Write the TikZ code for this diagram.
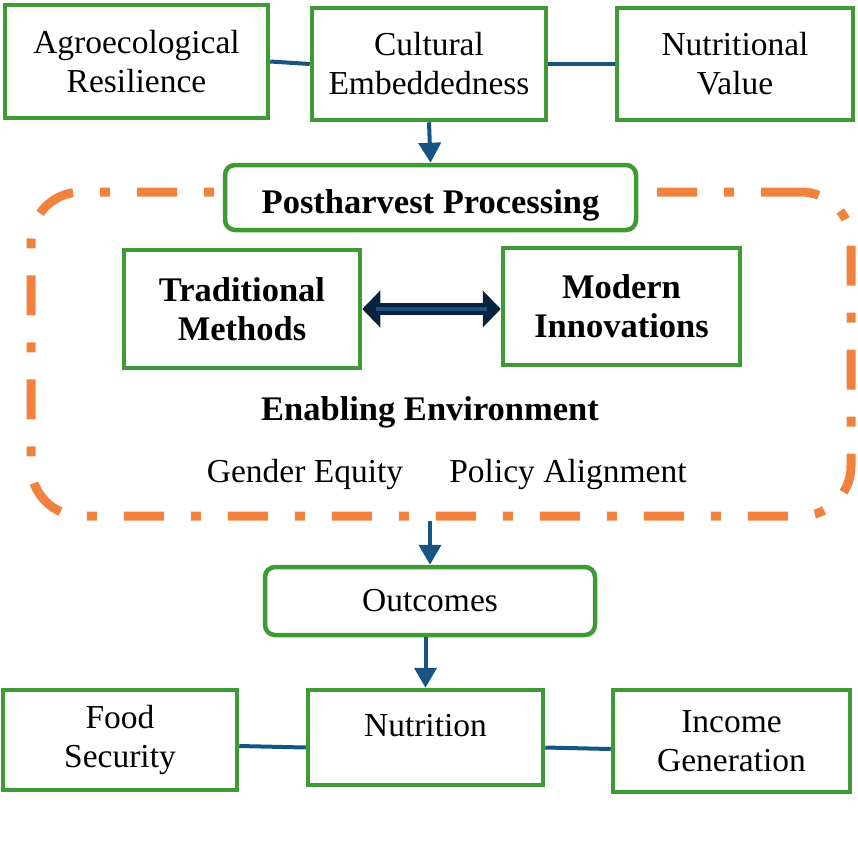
\documentclass[tikz,border=0pt]{standalone}
\usepackage{fontspec}
\setmainfont{Liberation Serif}
\usetikzlibrary{arrows.meta,positioning,calc}
\definecolor{boxgreen}{RGB}{62,154,52}
\definecolor{linkblue}{RGB}{22,84,132}
\definecolor{frameorange}{RGB}{240,130,62}
\definecolor{navydark}{RGB}{10,34,62}
\definecolor{navylight}{RGB}{28,80,128}

\begin{document}
\begin{tikzpicture}[x=1pt,y=-1pt,
  box/.style={draw=boxgreen, line width=4.5pt, fill=white, align=center, inner sep=0pt,
    font=\fontsize{33.5}{39}\selectfont},
  rbox/.style={box, rounded corners=10pt},
  bbox/.style={box, font=\fontsize{34.5}{39}\selectfont\bfseries},
  txt/.style={font=\fontsize{33.5}{39}\selectfont},
  link/.style={draw=linkblue, line width=4pt},
  flow/.style={link, -{Triangle[width=22pt,length=20pt]}},
  frame/.style={draw=frameorange, line width=9pt, rounded corners=50pt,
    dash pattern=on 40pt off 27pt on 10pt off 27pt}]
  \useasboundingbox (0,0) rectangle (858,854);

  % Top row
  \node[box, minimum width=263pt, minimum height=113pt] (agro) at (136.5,61.5) {Agroecological\\Resilience};
  \node[box, minimum width=234pt, minimum height=112pt] (cult) at (429,64) {Cultural\\Embeddedness};
  \node[box, minimum width=236pt, minimum height=112pt] (nutv) at (735,64) {Nutritional\\Value};
  \draw[link] (agro.east) -- (cult.west);
  \draw[link] (cult.east) -- (nutv.west);

  % Enabling environment frame
  \node[frame, minimum width=820pt, minimum height=324pt] (env) at (441,354) {};
  \node[bbox, rounded corners=10pt, text height=36pt, text depth=4pt, minimum width=411pt, minimum height=65pt] (post) at (430.5,197.5) {Postharvest Processing};
  \draw[flow] (cult.south) -- (post.north);

  % Methods
  \node[bbox, minimum width=236pt, minimum height=118pt] (trad) at (242,309) {Traditional\\Methods};
  \node[bbox, minimum width=237pt, minimum height=117pt] (mod) at (621.5,306.5) {Modern\\Innovations};
  \draw[draw=navydark, line width=12pt, {Triangle[width=36pt,length=18pt]}-{Triangle[width=36pt,length=18pt]}] (trad.east) -- (trad.east -| mod.west);
  \draw[draw=navylight, line width=4pt, shorten <=14pt, shorten >=14pt] (trad.east) -- (trad.east -| mod.west);

  \node[txt, font=\fontsize{34.5}{39}\selectfont\bfseries] (enab) at (430,412) {Enabling Environment};
  \node[txt] (gend) at (305,474) {Gender Equity};
  \node[txt] (poli) at (568,474) {Policy Alignment};

  % Outcomes
  \node[rbox, minimum width=330pt, minimum height=68pt] (outc) at (430,601) {Outcomes};
  \draw[flow] (env.south -| outc.north) -- (outc.north);

  % Bottom row
  \node[box, minimum width=234pt, minimum height=100pt] (food) at (120,740) {Food\\Security};
  \node[box, text height=22pt, text depth=25pt, minimum width=235pt, minimum height=95pt] (nutri) at (425.5,737.5) {Nutrition};
  \node[box, minimum width=237pt, minimum height=102pt] (inc) at (731.5,741) {Income\\Generation};
  \draw[flow] (outc.south -| nutri.north) -- (nutri.north);
  \draw[link] ([yshift=-6pt]food.east) -- ([yshift=-10pt]nutri.west);
  \draw[link] ([yshift=-10pt]nutri.east) -- ([yshift=-8pt]inc.west);
\end{tikzpicture}
\end{document}
